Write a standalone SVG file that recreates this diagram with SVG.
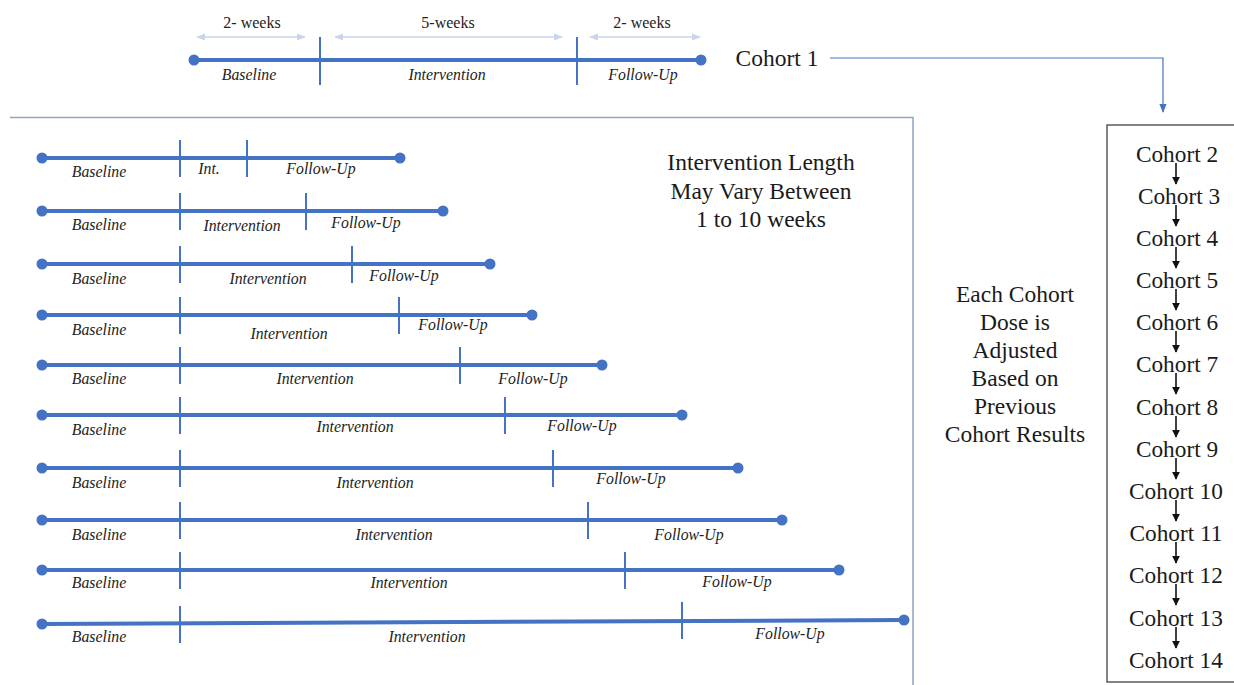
<svg xmlns="http://www.w3.org/2000/svg" width="1234" height="685" viewBox="0 0 1234 685" font-family="'Liberation Serif','Times New Roman',serif">
<defs>
<style>
text{font-family:'Liberation Serif','Times New Roman',serif}
.tl{stroke:#4472c4;stroke-width:4;fill:none;stroke-linecap:round}
.tk{stroke:#4472c4;stroke-width:2;fill:none}
.dot{fill:#4472c4}
.lab{font-style:italic;font-size:15.8px;fill:#222;text-anchor:middle}
.wk{font-size:16px;fill:#222;text-anchor:middle}
.big{font-size:23.5px;fill:#1a1a1a;text-anchor:middle}
.coh{font-size:23.3px;fill:#1a1a1a;text-anchor:middle}
.la{stroke:#c9d6ea;stroke-width:1.5;fill:none}
.ar{stroke:#111;stroke-width:1.6;fill:none}
</style>
<marker id="lah" viewBox="0 0 10 10" refX="9" refY="5" markerWidth="9" markerHeight="9" orient="auto-start-reverse" markerUnits="userSpaceOnUse"><path d="M0,1 L10,5 L0,9 z" fill="#c9d6ea"/></marker>
<marker id="bah" viewBox="0 0 10 10" refX="9" refY="5" markerWidth="8" markerHeight="8" orient="auto" markerUnits="userSpaceOnUse"><path d="M0,0 L10,5 L0,10 z" fill="#111"/></marker>
<marker id="cah" viewBox="0 0 10 10" refX="9" refY="5" markerWidth="9" markerHeight="9" orient="auto" markerUnits="userSpaceOnUse"><path d="M0,1 L10,5 L0,9 z" fill="#4472c4"/></marker>
</defs>
<rect width="1234" height="685" fill="#fff"/>

<g id="cohort1">
<line class="la" x1="197" y1="37" x2="305" y2="37" marker-start="url(#lah)" marker-end="url(#lah)"/>
<line class="la" x1="335" y1="37" x2="562" y2="37" marker-start="url(#lah)" marker-end="url(#lah)"/>
<line class="la" x1="590" y1="37" x2="700" y2="37" marker-start="url(#lah)" marker-end="url(#lah)"/>
<text class="wk" x="252" y="28">2- weeks</text>
<text class="wk" x="448" y="28">5-weeks</text>
<text class="wk" x="642" y="28">2- weeks</text>
<line class="tl" x1="194" y1="60" x2="701" y2="60"/>
<circle class="dot" cx="194" cy="60" r="5.5"/><circle class="dot" cx="701" cy="60" r="5.5"/>
<line class="tk" x1="320" y1="37" x2="320" y2="85"/>
<line class="tk" x1="577" y1="37" x2="577" y2="85"/>
<text class="lab" x="249" y="80">Baseline</text>
<text class="lab" x="447" y="80">Intervention</text>
<text class="lab" x="643" y="80">Follow-Up</text>
<text class="big" x="777" y="66">Cohort 1</text>
</g>

<g id="variants">
<path d="M10,117.5 H913 V685" fill="none" stroke="#8ea4c8" stroke-width="1.5"/>
<text class="big" x="761" y="170">Intervention Length</text>
<text class="big" x="761" y="198.5">May Vary Between</text>
<text class="big" x="761" y="227">1 to 10 weeks</text>

<g id="row1">
<line class="tl" x1="42" y1="158" x2="400" y2="158"/><circle class="dot" cx="42" cy="158" r="5.5"/><circle class="dot" cx="400" cy="158" r="5.5"/>
<line class="tk" x1="180" y1="140" x2="180" y2="177"/><line class="tk" x1="247" y1="140" x2="247" y2="177"/>
<text class="lab" x="99" y="177">Baseline</text><text class="lab" x="209" y="174">Int.</text><text class="lab" x="321" y="174">Follow-Up</text>
</g>
<g id="row2">
<line class="tl" x1="42" y1="211" x2="443" y2="211"/><circle class="dot" cx="42" cy="211" r="5.5"/><circle class="dot" cx="443" cy="211" r="5.5"/>
<line class="tk" x1="180" y1="193" x2="180" y2="230"/><line class="tk" x1="306" y1="193" x2="306" y2="230"/>
<text class="lab" x="99" y="230">Baseline</text><text class="lab" x="242" y="231">Intervention</text><text class="lab" x="366" y="228">Follow-Up</text>
</g>
<g id="row3">
<line class="tl" x1="42" y1="264" x2="490" y2="264"/><circle class="dot" cx="42" cy="264" r="5.5"/><circle class="dot" cx="490" cy="264" r="5.5"/>
<line class="tk" x1="180" y1="246" x2="180" y2="283"/><line class="tk" x1="352" y1="246" x2="352" y2="283"/>
<text class="lab" x="99" y="284">Baseline</text><text class="lab" x="268" y="284">Intervention</text><text class="lab" x="404" y="281">Follow-Up</text>
</g>
<g id="row4">
<line class="tl" x1="42" y1="315" x2="532" y2="315"/><circle class="dot" cx="42" cy="315" r="5.5"/><circle class="dot" cx="532" cy="315" r="5.5"/>
<line class="tk" x1="180" y1="297" x2="180" y2="334"/><line class="tk" x1="399" y1="297" x2="399" y2="334"/>
<text class="lab" x="99" y="335">Baseline</text><text class="lab" x="289" y="339">Intervention</text><text class="lab" x="453" y="330">Follow-Up</text>
</g>
<g id="row5">
<line class="tl" x1="42" y1="365" x2="602" y2="365"/><circle class="dot" cx="42" cy="365" r="5.5"/><circle class="dot" cx="602" cy="365" r="5.5"/>
<line class="tk" x1="180" y1="347" x2="180" y2="384"/><line class="tk" x1="460" y1="347" x2="460" y2="384"/>
<text class="lab" x="99" y="384">Baseline</text><text class="lab" x="315" y="384">Intervention</text><text class="lab" x="533" y="384">Follow-Up</text>
</g>
<g id="row6">
<line class="tl" x1="42" y1="415" x2="682" y2="415"/><circle class="dot" cx="42" cy="415" r="5.5"/><circle class="dot" cx="682" cy="415" r="5.5"/>
<line class="tk" x1="180" y1="397" x2="180" y2="434"/><line class="tk" x1="505" y1="397" x2="505" y2="434"/>
<text class="lab" x="99" y="435">Baseline</text><text class="lab" x="355" y="432">Intervention</text><text class="lab" x="582" y="431">Follow-Up</text>
</g>
<g id="row7">
<line class="tl" x1="42" y1="468" x2="738" y2="468"/><circle class="dot" cx="42" cy="468" r="5.5"/><circle class="dot" cx="738" cy="468" r="5.5"/>
<line class="tk" x1="180" y1="450" x2="180" y2="487"/><line class="tk" x1="553" y1="450" x2="553" y2="487"/>
<text class="lab" x="99" y="488">Baseline</text><text class="lab" x="375" y="488">Intervention</text><text class="lab" x="631" y="484">Follow-Up</text>
</g>
<g id="row8">
<line class="tl" x1="42" y1="520" x2="782" y2="520"/><circle class="dot" cx="42" cy="520" r="5.5"/><circle class="dot" cx="782" cy="520" r="5.5"/>
<line class="tk" x1="180" y1="502" x2="180" y2="539"/><line class="tk" x1="588" y1="502" x2="588" y2="539"/>
<text class="lab" x="99" y="540">Baseline</text><text class="lab" x="394" y="540">Intervention</text><text class="lab" x="689" y="540">Follow-Up</text>
</g>
<g id="row9">
<line class="tl" x1="42" y1="570" x2="839" y2="570"/><circle class="dot" cx="42" cy="570" r="5.5"/><circle class="dot" cx="839" cy="570" r="5.5"/>
<line class="tk" x1="180" y1="552" x2="180" y2="589"/><line class="tk" x1="625" y1="552" x2="625" y2="589"/>
<text class="lab" x="99" y="588">Baseline</text><text class="lab" x="409" y="588">Intervention</text><text class="lab" x="737" y="587">Follow-Up</text>
</g>
<g id="row10">
<line class="tl" x1="42" y1="624" x2="904" y2="620"/><circle class="dot" cx="42" cy="624" r="5.5"/><circle class="dot" cx="904" cy="620" r="5.5"/>
<line class="tk" x1="180" y1="606" x2="180" y2="643"/><line class="tk" x1="682" y1="602" x2="682" y2="639"/>
<text class="lab" x="99" y="642">Baseline</text><text class="lab" x="427" y="642">Intervention</text><text class="lab" x="790" y="639">Follow-Up</text>
</g>
</g>

<g id="note">
<text class="big" x="1015" y="302">Each Cohort</text>
<text class="big" x="1015" y="330">Dose is</text>
<text class="big" x="1015" y="358">Adjusted</text>
<text class="big" x="1015" y="386">Based on</text>
<text class="big" x="1015" y="414">Previous</text>
<text class="big" x="1015" y="442">Cohort Results</text>
</g>

<g id="cohortlist">
<rect x="1107" y="125" width="140" height="557" fill="none" stroke="#404040" stroke-width="1.3"/>
<text class="coh" x="1177" y="162">Cohort 2</text>
<text class="coh" x="1179" y="204">Cohort 3</text>
<text class="coh" x="1177" y="246">Cohort 4</text>
<text class="coh" x="1177" y="288">Cohort 5</text>
<text class="coh" x="1177" y="330">Cohort 6</text>
<text class="coh" x="1177" y="372">Cohort 7</text>
<text class="coh" x="1177" y="415">Cohort 8</text>
<text class="coh" x="1177" y="457">Cohort 9</text>
<text class="coh" x="1176" y="499">Cohort 10</text>
<text class="coh" x="1176" y="541">Cohort 11</text>
<text class="coh" x="1176" y="583">Cohort 12</text>
<text class="coh" x="1176" y="626">Cohort 13</text>
<text class="coh" x="1176" y="668">Cohort 14</text>
</g>

<g id="connectors">
<path d="M830,58 H1163 V112" fill="none" stroke="#4472c4" stroke-width="1.2" marker-end="url(#cah)"/>
<line class="ar" x1="1176" y1="163" x2="1176" y2="184" marker-end="url(#bah)"/>
<line class="ar" x1="1176" y1="205" x2="1176" y2="226" marker-end="url(#bah)"/>
<line class="ar" x1="1176" y1="247" x2="1176" y2="268" marker-end="url(#bah)"/>
<line class="ar" x1="1176" y1="289" x2="1176" y2="310" marker-end="url(#bah)"/>
<line class="ar" x1="1176" y1="331" x2="1176" y2="352" marker-end="url(#bah)"/>
<line class="ar" x1="1176" y1="373" x2="1176" y2="394" marker-end="url(#bah)"/>
<line class="ar" x1="1176" y1="416" x2="1176" y2="437" marker-end="url(#bah)"/>
<line class="ar" x1="1176" y1="458" x2="1176" y2="479" marker-end="url(#bah)"/>
<line class="ar" x1="1176" y1="500" x2="1176" y2="521" marker-end="url(#bah)"/>
<line class="ar" x1="1176" y1="542" x2="1176" y2="563" marker-end="url(#bah)"/>
<line class="ar" x1="1176" y1="584" x2="1176" y2="605" marker-end="url(#bah)"/>
<line class="ar" x1="1176" y1="627" x2="1176" y2="648" marker-end="url(#bah)"/>
</g>
</svg>
